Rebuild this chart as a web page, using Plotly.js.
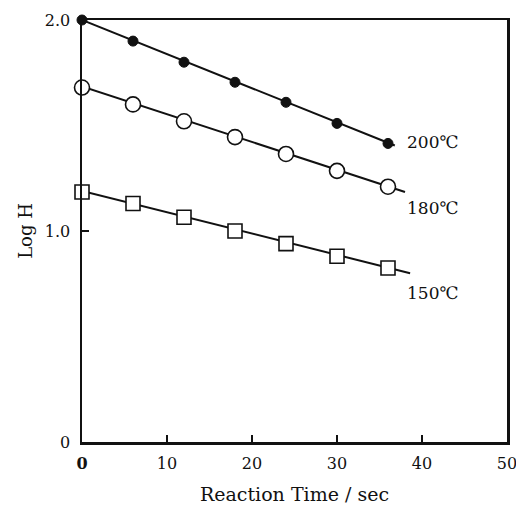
<!DOCTYPE html>
<html>
<head>
<meta charset="utf-8">
<script src="https://cdn.plot.ly/plotly-3.0.1.min.js"></script>
<style>html,body{margin:0;padding:0;background:#fff;}#chart{width:516px;height:505px;}</style>
</head>
<body>
<div id="chart"></div>
<script>
// Reaction time (sec)
const times = [0, 6, 12, 18, 24, 30, 36];
// Log H values
const logH200 = [2.0, 1.90, 1.80, 1.705, 1.61, 1.51, 1.415];
const logH180 = [1.68, 1.60, 1.52, 1.445, 1.365, 1.285, 1.21];
const logH150 = [1.185, 1.13, 1.065, 1.0, 0.94, 0.88, 0.825];
// Fitted straight lines (start/end)
const fit200X = [0, 36.8];
const fit200Y = [2.0, 1.405];
const fit180X = [0, 38.0];
const fit180Y = [1.685, 1.185];
const fit150X = [0, 38.6];
const fit150Y = [1.19, 0.80];
const seriesLabels = ['200℃', '180℃', '150℃'];
const xTickVals = [0, 10, 20, 30, 40, 50];
const xTickText = ['<b>0</b>', '10', '20', '30', '40', '50'];
const yTickVals = [0, 1, 2];
const yTickText = ['0', '1.0', '2.0'];

const font = 'DejaVu Serif, Liberation Serif, serif';
const lineStyle = {color: '#111', width: 2};

const traces = [
  {x: fit200X, y: fit200Y, mode: 'lines', line: lineStyle, hoverinfo: 'skip', cliponaxis: false},
  {x: fit180X, y: fit180Y, mode: 'lines', line: lineStyle, hoverinfo: 'skip', cliponaxis: false},
  {x: fit150X, y: fit150Y, mode: 'lines', line: lineStyle, hoverinfo: 'skip', cliponaxis: false},
  {x: times, y: logH200, mode: 'markers', name: seriesLabels[0], cliponaxis: false,
   marker: {symbol: 'circle', size: 10, color: '#111', line: {color: '#111', width: 1}}},
  {x: times, y: logH180, mode: 'markers', name: seriesLabels[1], cliponaxis: false,
   marker: {symbol: 'circle', size: 15, color: '#fff', line: {color: '#111', width: 1.6}}},
  {x: times, y: logH150, mode: 'markers', name: seriesLabels[2], cliponaxis: false,
   marker: {symbol: 'square', size: 14, color: '#fff', line: {color: '#111', width: 1.6}}}
];

const layout = {
  width: 516, height: 505,
  margin: {l: 82, r: 9, t: 20, b: 63},
  paper_bgcolor: '#fff', plot_bgcolor: '#fff',
  showlegend: false,
  font: {family: font, size: 16, color: '#111'},
  xaxis: {
    range: [0, 50], tickvals: xTickVals, ticktext: xTickText,
    ticks: 'inside', ticklen: 7, tickwidth: 2, tickcolor: '#111',
    showline: true, mirror: true, linecolor: '#111', linewidth: 2.5,
    showgrid: false, zeroline: false, ticklabeloverflow: 'allow',
    ticklabelstandoff: 5,
    tickfont: {family: font, size: 16},
    title: {text: 'Reaction Time / sec', font: {family: font, size: 19}, standoff: 16}
  },
  yaxis: {
    range: [0, 2], tickvals: yTickVals, ticktext: yTickText,
    ticks: 'inside', ticklen: 7, tickwidth: 2, tickcolor: '#111',
    showline: true, mirror: true, linecolor: '#111', linewidth: 2.5,
    showgrid: false, zeroline: false, ticklabeloverflow: 'allow',
    ticklabelstandoff: 6,
    tickfont: {family: font, size: 16},
    title: {text: 'Log H', font: {family: font, size: 18}, standoff: 8}
  },
  annotations: [
    {x: 38, y: 1.42, xref: 'x', yref: 'y', text: seriesLabels[0], showarrow: false, xanchor: 'left', font: {family: font, size: 17}},
    {x: 38, y: 1.11, xref: 'x', yref: 'y', text: seriesLabels[1], showarrow: false, xanchor: 'left', font: {family: font, size: 17}},
    {x: 38, y: 0.705, xref: 'x', yref: 'y', text: seriesLabels[2], showarrow: false, xanchor: 'left', font: {family: font, size: 17}}
  ]
};

Plotly.newPlot('chart', traces, layout, {displayModeBar: false, staticPlot: true});
</script>
</body>
</html>
